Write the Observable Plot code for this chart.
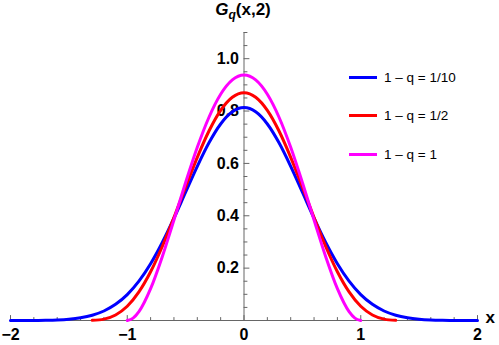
<!DOCTYPE html>
<html><head><meta charset="utf-8">
<script src="https://cdn.jsdelivr.net/npm/d3@7"></script>
<script src="https://cdn.jsdelivr.net/npm/@observablehq/plot@0.6"></script>
<style>
body{margin:0;background:#fff;}
#wrap{position:relative;width:499px;height:345px;font-family:"Liberation Sans",Arial,sans-serif;}
#title{position:absolute;left:0;width:486px;top:0px;text-align:center;font-weight:bold;font-size:17px;line-height:20px;color:#000;}
#title sub{font-size:12px;vertical-align:-4px;line-height:0;}
.leg{position:absolute;left:349px;height:16px;display:flex;align-items:center;font-size:13.5px;color:#000;white-space:nowrap;}
.leg .sw{width:28px;height:3px;margin-right:7px;}
</style></head><body><div id="wrap"></div>
<script>
// ---- data ----
const seriesNames = ["1 \u2013 q = 1/10", "1 \u2013 q = 1/2", "1 \u2013 q = 1"];
const seriesColors = ["#0000ff", "#ff0000", "#ff00ff"];

const blueX = [-2,-1.9,-1.8,-1.7,-1.6,-1.5,-1.4,-1.3,-1.2,-1.1,-1,-0.9,-0.8,-0.7,-0.6,-0.5,-0.4,-0.3,-0.2,-0.1,0,0.1,0.2,0.3,0.4,0.5,0.6,0.7,0.8,0.9,1,1.1,1.2,1.3,1.4,1.5,1.6,1.7,1.8,1.9,2];
const blueY = [0,0.0001,0.0003,0.0009,0.0022,0.0050,0.0104,0.0201,0.0363,0.0617,0.0989,0.1501,0.2166,0.2977,0.3906,0.4901,0.5889,0.6786,0.7505,0.7970,0.8131,0.7970,0.7505,0.6786,0.5889,0.4901,0.3906,0.2977,0.2166,0.1501,0.0989,0.0617,0.0363,0.0201,0.0104,0.0050,0.0022,0.0009,0.0003,0.0001,0];

const redX = [-1.3,-1.2,-1.1,-1,-0.9,-0.8,-0.7,-0.6,-0.5,-0.4,-0.3,-0.2,-0.1,0,0.1,0.2,0.3,0.4,0.5,0.6,0.7,0.8,0.9,1,1.1,1.2,1.3];
const redY = [0.0005,0.0053,0.0212,0.0544,0.1091,0.1860,0.2827,0.3934,0.5100,0.6233,0.7237,0.8026,0.8528,0.8701,0.8528,0.8026,0.7237,0.6233,0.5100,0.3934,0.2827,0.1860,0.1091,0.0544,0.0212,0.0053,0.0005];

const magX = [-1,-0.95,-0.9,-0.8,-0.7,-0.6,-0.5,-0.4,-0.3,-0.2,-0.1,0,0.1,0.2,0.3,0.4,0.5,0.6,0.7,0.8,0.9,0.95,1];
const magY = [0,0.0089,0.0338,0.1215,0.2438,0.3840,0.5273,0.6615,0.7763,0.8640,0.9188,0.9375,0.9188,0.8640,0.7763,0.6615,0.5273,0.3840,0.2438,0.1215,0.0338,0.0089,0];

const xMajor = [-2,-1,0,1,2];
const xLabels = ["\u22122","\u22121","0","1","2"];
const xMinor = [-1.8,-1.6,-1.4,-1.2,-0.8,-0.6,-0.4,-0.2,0.2,0.4,0.6,0.8,1.2,1.4,1.6,1.8];
const yMajor = [0.2,0.4,0.6,0.8,1.0];
const yLabels = ["0.2","0.4","0.6","0.8","1.0"];
const yMinor = [0.05,0.1,0.15,0.25,0.3,0.35,0.45,0.5,0.55,0.65,0.7,0.75,0.85,0.9,0.95,1.05,1.1];
const xName = "x";

// ---- build table ----
const rows = [];
[[blueX,blueY],[redX,redY],[magX,magY]].forEach(([xs,ys],k)=>{
  xs.forEach((x,i)=>rows.push({x, y: ys[i], s: seriesNames[k]}));
});

const axisColor = "#666";
const font = "Liberation Sans, Arial, sans-serif";
const tickShape = {draw(ctx, l){ ctx.moveTo(0,0); ctx.lineTo(0,-l); }};

const chart = Plot.plot({
  width: 499, height: 345,
  marginLeft: 10, marginRight: 22, marginTop: 32, marginBottom: 25,
  x: {domain: [-2, 2], axis: null},
  y: {domain: [0, 1.1], axis: null},
  color: {domain: seriesNames, range: seriesColors},
  style: {fontFamily: font, background: "#fff"},
  marks: [
    Plot.ruleY([0], {stroke: axisColor, strokeWidth: 1}),
    Plot.ruleX([0], {y1: 0, y2: 1.1, stroke: axisColor, strokeWidth: 1}),
    Plot.vector(xMajor, {x: d=>d, y: 0, length: 5, rotate: 0, anchor: "start", shape: tickShape, stroke: axisColor, strokeWidth: 1}),
    Plot.vector(xMinor, {x: d=>d, y: 0, length: 3, rotate: 0, anchor: "start", shape: tickShape, stroke: axisColor, strokeWidth: 1}),
    Plot.vector(yMajor, {x: 0, y: d=>d, length: 5, rotate: 90, anchor: "start", shape: tickShape, stroke: axisColor, strokeWidth: 1}),
    Plot.vector(yMinor, {x: 0, y: d=>d, length: 3, rotate: 90, anchor: "start", shape: tickShape, stroke: axisColor, strokeWidth: 1}),
    Plot.text(xMajor, {x: d=>d, y: 0, text: (d,i)=>xLabels[i], dy: 14, fontSize: 16, fontWeight: "bold", fill: "#000", fontFamily: font}),
    Plot.text(yMajor, {x: 0, y: d=>d, text: (d,i)=>yLabels[i], dx: -5, textAnchor: "end", fontSize: 16, fontWeight: "bold", fill: "#000", fontFamily: font}),
    Plot.text([xName], {frameAnchor: "bottom-right", text: d=>d, dx: 8, dy: 2, textAnchor: "start", fontSize: 17, fontWeight: "bold", fill: "#000", fontFamily: font}),
    Plot.line(rows, {x: "x", y: "y", z: "s", stroke: "s", strokeWidth: 3, curve: "monotone-x"})
  ]
});

const wrap = document.getElementById("wrap");
wrap.appendChild(chart);

const title = document.createElement("div");
title.id = "title";
title.innerHTML = '<i>G</i><sub><i>q</i></sub>(x,2)';
wrap.appendChild(title);

const legTops = [77, 115, 154];
seriesNames.forEach((name, i) => {
  const d = document.createElement("div");
  d.className = "leg";
  d.style.top = (legTops[i] - 8) + "px";
  d.innerHTML = `<span class="sw" style="background:${seriesColors[i]}"></span><span>${name}</span>`;
  wrap.appendChild(d);
});
</script>
</body></html>
